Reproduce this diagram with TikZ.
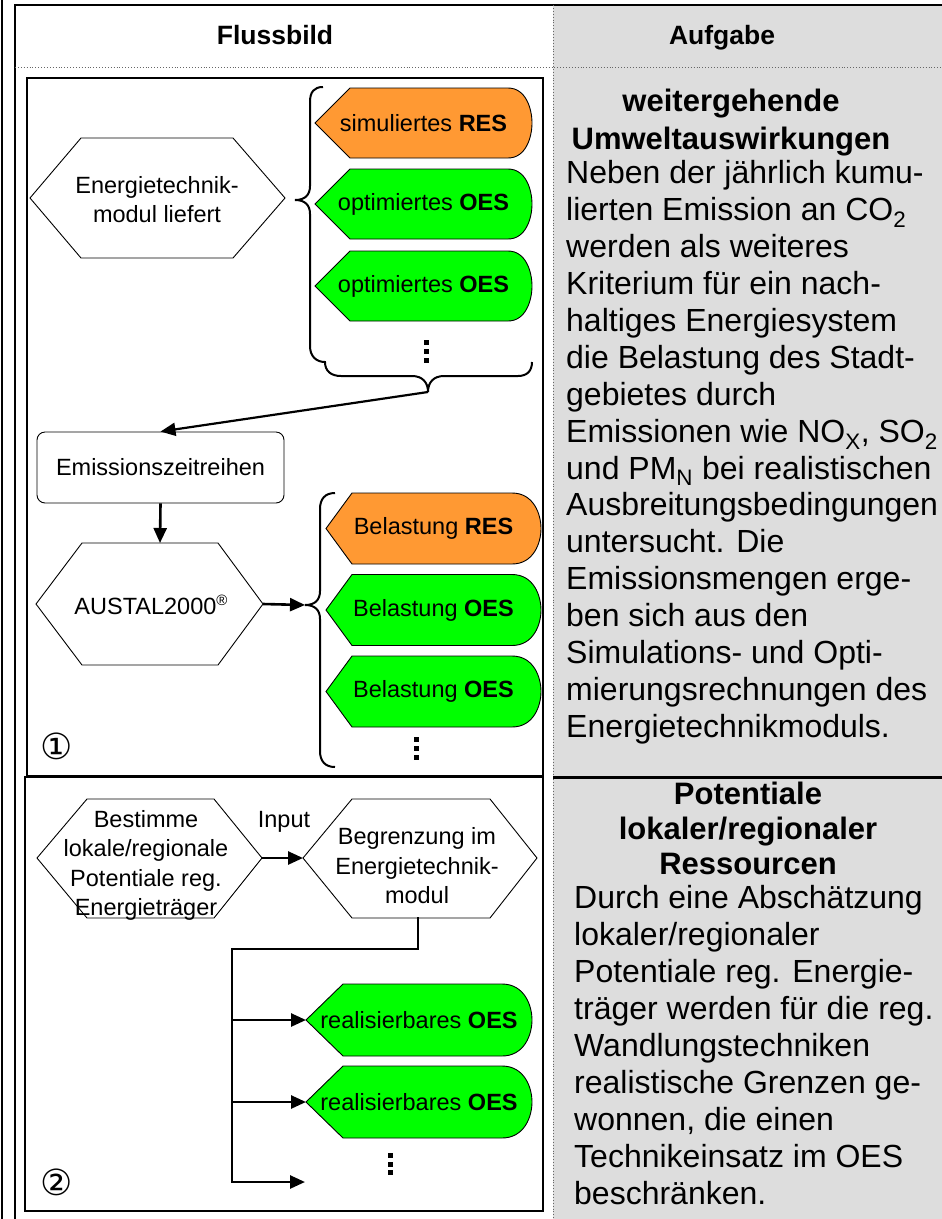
\documentclass[tikz,border=0pt]{standalone}
\usepackage{fontspec}
\setmainfont{Liberation Sans}
\newfontfamily\dejavu{DejaVu Sans}
\usetikzlibrary{arrows.meta}
\definecolor{resorange}{RGB}{255,153,51}
\definecolor{oesgreen}{RGB}{0,255,0}
\definecolor{colgrey}{RGB}{221,221,221}
\newcommand{\fsmall}{\fontsize{23.5}{29}\selectfont}
\newcommand{\fhead}{\fontsize{26.5}{30}\selectfont\bfseries}
\newcommand{\ftitle}{\fontsize{31}{38}\selectfont\bfseries}
\newcommand{\fbody}{\fontsize{32}{36.9}\selectfont}
% #1 name, #2 left point x, #3 centre y, #4 diagonal width, #5 end of straight edge x,
% #6 right extremity x, #7 half height, #8 fill, #9 text
\newcommand{\dispbox}[9]{%
  \draw[displine, fill=#8] (#2,#3) -- ({#2+#4},{#3-#7}) -- (#5,{#3-#7})
    .. controls ({#5+(#6-#5)*0.75},{#3-#7}) and (#6,{#3-#7*0.4}) .. (#6,#3)
    .. controls (#6,{#3+#7*0.4}) and ({#5+(#6-#5)*0.75},{#3+#7}) .. (#5,{#3+#7})
    -- ({#2+#4},{#3+#7}) -- cycle;
  \coordinate (#1-w) at (#2,#3);
  \node[shapetxt] (#1) at ({(#2+#6)/2},#3) {#9};
}
\begin{document}
\begin{tikzpicture}[x=1pt,y=-1pt,
  frame/.style={draw=black, line width=2pt},
  hexline/.style={draw=black, line width=0.9pt},
  displine/.style={draw=black, line width=0.9pt},
  shapetxt/.style={font=\fsmall, inner sep=0pt},
  hextxt/.style={font=\fsmall, align=center, inner sep=0pt},
  conn/.style={draw=black, line width=2.6pt},
  arr/.style={conn, -{Triangle[length=15pt,width=13pt]}},
  bracestyle/.style={draw=black, line width=2pt},
  dotsq/.style={fill=black},
  gridline/.style={draw=black!60, dotted, line width=0.9pt},
  bodytxt/.style={font=\fbody, align=left, inner sep=0pt, anchor=north west},
  titletxt/.style={font=\ftitle, align=center, inner sep=0pt},
  numtxt/.style={font=\dejavu\fontsize{36}{36}\selectfont, inner sep=0pt}
]
\useasboundingbox (0,0) rectangle (942,1219);
% table
\fill[colgrey] (553,5) rectangle (942,1219);
\draw[line width=2pt] (2,0) -- (2,1219);
\draw[line width=2pt] (15,1219) -- (15,5) -- (942,5);
\draw[gridline] (15,67) -- (942,67);
\draw[gridline] (553,5) -- (553,1219);
\draw[line width=3pt] (553,777) -- (942,777);
\node[font=\fhead, inner sep=0pt, anchor=base] (hflu) at (275,44.5) {Flussbild};
\node[font=\fhead, inner sep=0pt, anchor=base] (hauf) at (722,44.5) {Aufgabe};

% frames
\draw[frame] (27,78) rectangle (543,776);
\draw[frame] (25,777) rectangle (543,1211);

% ===== box 1 =====
\draw[hexline] (30,198) -- (81,138) -- (233,138) -- (285,198) -- (233,258) -- (81,258) -- cycle;
\node[hextxt] (etm) at (157,200) {Energietechnik-\\modul liefert};

\dispbox{sres}{315}{123}{35}{508}{532}{35}{resorange}{simuliertes \textbf{RES}}
\dispbox{soes1}{315}{204}{35}{508}{532}{35}{oesgreen}{optimiertes \textbf{OES}}
\dispbox{soes2}{315}{286}{35}{508}{532}{35}{oesgreen}{optimiertes \textbf{OES}}
\fill[dotsq] (423.5,339.5) rectangle (428.5,344.5);
\fill[dotsq] (423.5,348.5) rectangle (428.5,353.5);
\fill[dotsq] (423.5,357.5) rectangle (428.5,362.5);

% brace 1 (vertical + horizontal)
\coordinate (b1tip) at (428,392);
\draw[bracestyle] (323,87) .. controls (314,87) and (310,92) .. (310,102) -- (310,186)
  .. controls (310,195) and (305,200) .. (295,200)
  .. controls (305,200) and (310,205) .. (310,214) -- (310,346)
  .. controls (310,356) and (316,362) .. (325,362)
  .. controls (325,371) and (331,376) .. (341,376) -- (412,376)
  .. controls (422,376) and (428,382) .. (b1tip)
  .. controls (428,382) and (434,376) .. (444,376) -- (518,376)
  .. controls (527,376) and (532,371) .. (532,362);

\node[draw=black, line width=0.9pt, rounded corners=8pt, minimum width=247pt, minimum height=71pt,
  font=\fsmall, inner sep=0pt] (emis) at (160.5,467.5) {Emissionszeitreihen};
\draw[arr, line width=2.2pt] (b1tip) -- (emis.north);

\draw[hexline] (36,604) -- (82,543) -- (218,543) -- (263,604) -- (218,665) -- (82,665) -- cycle;
\coordinate (austal-n) at (160,543);
\coordinate (austal-e) at (263,604);
\node[hextxt] (austal) at (151,605) {AUSTAL2000\raisebox{0.38em}{\fontsize{15}{15}\selectfont ®}};
\draw[arr] (emis.south) -- (austal-n);

\coordinate (b2tip) at (305,605);
\draw[bracestyle] (335,493) .. controls (325,493) and (320,499) .. (320,509) -- (320,591)
  .. controls (320,600) and (315,605) .. (b2tip)
  .. controls (315,605) and (320,610) .. (320,619) -- (320,751)
  .. controls (320,761) and (325,767) .. (335,767);
\draw[arr] (austal-e) -- (b2tip);

\dispbox{bres}{326}{528.5}{26}{512}{541}{35.5}{resorange}{Belastung \textbf{RES}}
\dispbox{boes1}{326}{610}{26}{512}{541}{35.5}{oesgreen}{Belastung \textbf{OES}}
\dispbox{boes2}{326}{691.5}{26}{512}{541}{35.5}{oesgreen}{Belastung \textbf{OES}}
\fill[dotsq] (413.5,736.5) rectangle (418.5,741.5);
\fill[dotsq] (413.5,745.5) rectangle (418.5,750.5);
\fill[dotsq] (413.5,754.5) rectangle (418.5,759.5);

\node[numtxt] (num1) at (57,746) {①};

% ===== box 2 =====
\draw[hexline] (37,858) -- (87,799) -- (214,799) -- (262,858) -- (214,918) -- (87,918) -- cycle;
\coordinate (best-e) at (262,858);
\node[hextxt, font=\fontsize{23.5}{29.5}\selectfont] (best) at (146,865.5) {Bestimme\\lokale/regionale\\Potentiale reg.\\Energieträger};

\draw[hexline] (303,858) -- (352,799) -- (490,799) -- (537,858) -- (490,918) -- (352,918) -- cycle;
\coordinate (begr-w) at (303,858);
\coordinate (begr-s) at (418,918);
\node[hextxt, font=\fontsize{23.5}{29.5}\selectfont] (begr) at (417,866) {Begrenzung im\\Energietechnik-\\modul};

\node[font=\fsmall, inner sep=0pt] (inp) at (284,822) {Input};
\draw[arr] (best-e) -- (begr-w);

\dispbox{roes1}{306}{1020}{37}{502}{532}{36}{oesgreen}{realisierbares \textbf{OES}}
\dispbox{roes2}{306}{1102}{37}{502}{532}{36}{oesgreen}{realisierbares \textbf{OES}}
\fill[dotsq] (387.5,1152.5) rectangle (392.5,1157.5);
\fill[dotsq] (387.5,1161.5) rectangle (392.5,1166.5);
\fill[dotsq] (387.5,1169.5) rectangle (392.5,1174.5);

\coordinate (j1) at (418,949);
\coordinate (j2) at (232,949);
\coordinate (j3) at (232,1020);
\coordinate (j4) at (232,1102);
\coordinate (j5) at (232,1182);
\coordinate (freeend) at (305,1182);
\draw[conn, line cap=rect] (begr-s) -- (j1) -- (j2) -- (j5);
\draw[arr] (j3) -- (roes1-w);
\draw[arr] (j4) -- (roes2-w);
\draw[arr] (j5) -- (freeend);

\node[numtxt] (num2) at (57,1182) {②};

% ===== right column =====
\node[titletxt] (t1) at (731,122.5) {weitergehende\\Umweltauswirkungen};
\node[bodytxt] (p1) at (566,160.5) {Neben der jährlich kumu-\\
lierten Emission an CO\textsubscript{2}\\
werden als weiteres\\
Kriterium für ein nach-\\
haltiges Energiesystem\\
die Belastung des Stadt-\\
gebietes durch\\
Emissionen wie NO\textsubscript{X}, SO\textsubscript{2}\\
und PM\textsubscript{N} bei realistischen\\
Ausbreitungsbedingungen\\
untersucht. Die\\
Emissionsmengen erge-\\
ben sich aus den\\
Simulations- und Opti-\\
mierungsrechnungen des\\
Energietechnikmoduls.};

\node[titletxt, font=\fontsize{31}{35}\selectfont\bfseries] (t2) at (748,828) {Potentiale\\lokaler/regionaler\\Ressourcen};
\node[bodytxt] (p2) at (574,885.5) {Durch eine Abschätzung\\
lokaler/regionaler\\
Potentiale reg. Energie-\\
träger werden für die reg.\\
Wandlungstechniken\\
realistische Grenzen ge-\\
wonnen, die einen\\
Technikeinsatz im OES\\
beschränken.};
\end{tikzpicture}
\end{document}
